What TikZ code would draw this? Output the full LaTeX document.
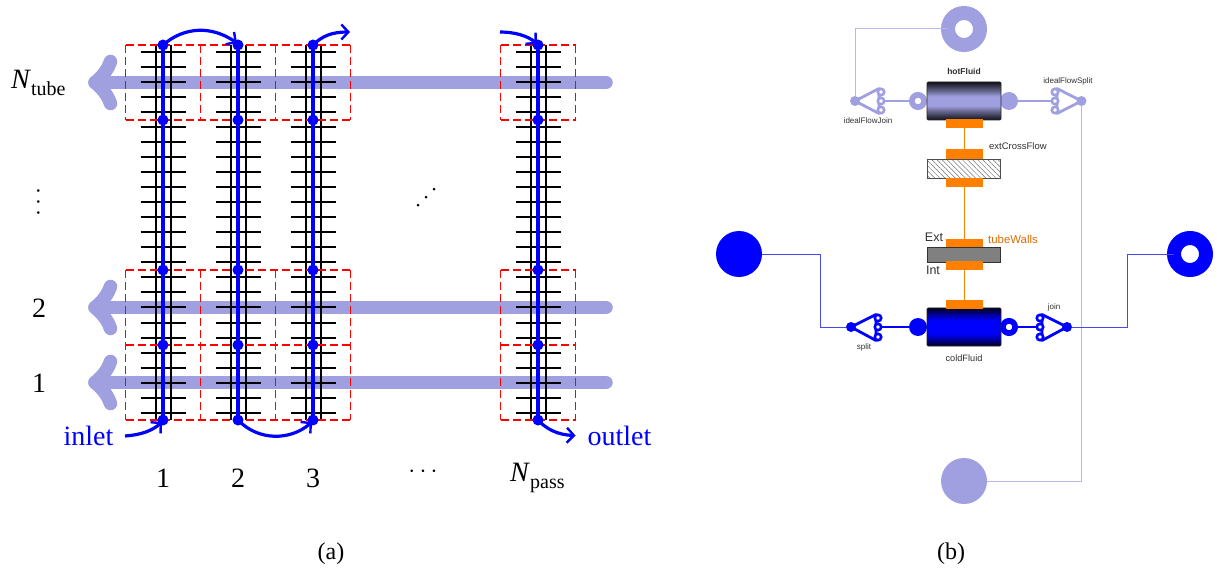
\documentclass[tikz,border=0pt]{standalone}
\usepackage{fontspec}
\setmainfont{Liberation Serif}
\newfontfamily\lsans{Liberation Sans}
\usetikzlibrary{arrows.meta,patterns.meta,calc}
\definecolor{lil}{HTML}{A0A0E0}
\definecolor{lilthin}{HTML}{B8B8EA}
\definecolor{flow}{HTML}{0000FF}
\definecolor{flowthin}{HTML}{4848F0}
\definecolor{orng}{HTML}{FF8000}
\definecolor{lbl}{HTML}{303030}
\definecolor{wallgray}{HTML}{808080}
\pgfdeclareverticalshading{hotshadeb}{100bp}{color(0bp)=(black!90!lil); color(25bp)=(black!90!lil); color(37bp)=(black!35!lil); color(44bp)=(lil); color(56bp)=(lil); color(63bp)=(black!35!lil); color(75bp)=(black!90!lil); color(100bp)=(black!90!lil)}
\pgfdeclareverticalshading{coldshade}{100bp}{color(0bp)=(black!90!flow); color(25bp)=(black!90!flow); color(35bp)=(black!30!flow); color(42bp)=(flow); color(58bp)=(flow); color(65bp)=(black!30!flow); color(75bp)=(black!90!flow); color(100bp)=(black!90!flow)}
\newcommand{\bigtxt}{\fontsize{28}{30}\selectfont}
\newcommand{\subtxt}{\fontsize{20}{22}\selectfont}
\tikzset{
  fin/.style={draw=black,line width=2pt},
  tubewall/.style={draw=black,line width=2pt},
  redline/.style={draw=red,line width=1.2pt,dash pattern=on 8pt off 4pt},
  fdot/.style={circle,fill=flow,inner sep=0pt,minimum size=11pt},
  flowline/.style={draw=flow,line width=3.8pt},
  flowarrow/.style={draw=flow,line width=3.2pt,-{Straight Barb[length=7pt,width=15pt,line width=2.4pt]}},
  crossline/.style={draw=lil,line width=13.5pt,line cap=round},
  crosstip/.style={draw=lil,line width=13.5pt,line cap=round,line join=round},
  ltxt/.style={font=\bigtxt,text=black,inner sep=0pt},
  capt/.style={font=\fontsize{24}{26}\selectfont,text=black,inner sep=0pt},
  fullport/.style={circle,fill=#1,inner sep=0pt,outer sep=0pt},
  ringport/.style={circle,draw=#1,fill=white,inner sep=0pt,outer sep=0pt},
  bigport/.style={minimum size=46pt},
  bigring/.style={minimum size=32pt,line width=14pt},
  midport/.style={minimum size=18pt},
  midring/.style={minimum size=12.3pt,line width=5.7pt},
  smalldot/.style={minimum size=10pt},
  pin/.style={circle,draw=#1,fill=white,inner sep=0pt,outer sep=0pt,line width=2.6pt,minimum size=6.4pt},
  thin lil/.style={draw=lilthin,line width=1pt},
  thin blue/.style={draw=flowthin,line width=.9pt},
  thin lil dark/.style={draw=lil,line width=1.3pt},
  thin blue dark/.style={draw=flow,line width=1.3pt},
  tri/.style={line width=2.8pt,line join=round},
  cyl/.style={rectangle,minimum width=74pt,minimum height=38pt,inner sep=0pt,outer sep=0pt,rounded corners=1pt,draw=black!85,line width=.6pt},
  thermal/.style={rectangle,fill=orng,inner sep=0pt,outer sep=0pt,minimum width=37pt,minimum height=9pt},
  tline/.style={draw=orng,line width=1pt},
  stxt/.style={font=\lsans\fontsize{#1}{#1}\selectfont,text=lbl,inner sep=0pt},
}
\begin{document}
\begin{tikzpicture}[x=1pt,y=-1pt]
\useasboundingbox (0,0) rectangle (1219,572);
% ---------- (a) ----------
\foreach \yy/\nm in {82.5/a,307.5/b,382.5/c}{
  \coordinate (xs\nm) at (606,\yy);
  \coordinate (xt\nm) at (95,\yy);
  \coordinate (xu\nm) at (110.5,\yy-21);
  \coordinate (xd\nm) at (110.5,\yy+21);
  \draw[crossline] (xs\nm) -- (xt\nm);
  \draw[crosstip] (xu\nm) .. controls (107,\yy-11) and (101,\yy-5) .. (xt\nm) .. controls (101,\yy+5) and (107,\yy+11) .. (xd\nm);
}
\foreach \cx in {163,238,313,538}{
  \foreach \k in {0,...,24}{
    \pgfmathsetmacro{\yy}{52.5+15*\k}
    \draw[fin] (\cx-22.5,\yy) -- (\cx+22.5,\yy);
  }
  \draw[tubewall] (\cx-7.5,45) -- (\cx-7.5,420);
  \draw[tubewall] (\cx+7.5,45) -- (\cx+7.5,420);
}
% red control volumes: every edge once
\foreach \ya in {45,120,270,345,420}{
  \draw[redline] (125.5,\ya) -- (350.5,\ya);
  \draw[redline] (500.5,\ya) -- (575.5,\ya);
}
\foreach \xa in {125.5,200.5,275.5,350.5,500.5,575.5}{
  \draw[redline] (\xa,45) -- (\xa,120);
  \draw[redline] (\xa,270) -- (\xa,420);
}
\foreach \cx/\c in {163/p,238/q,313/r,538/s}{
  \node[fdot] (\c1) at (\cx,45) {};
  \node[fdot] (\c2) at (\cx,120) {};
  \node[fdot] (\c3) at (\cx,270) {};
  \node[fdot] (\c4) at (\cx,345) {};
  \node[fdot] (\c5) at (\cx,420) {};
  \draw[flowline] (\c1.center) -- (\c5.center);
}
\coordinate (inA) at (125,436);
\coordinate (outB) at (350,32);
\coordinate (inS) at (500,32);
\coordinate (outE) at (575.5,435.5);
\draw[flowarrow] (p1.center) .. controls (185,26) and (212,26) .. (237,43);
\draw[flowarrow] (r1.center) .. controls (322,36) and (332,32) .. (outB);
\draw[flowarrow] (inS) .. controls (515,32) and (528,36) .. (537,44);
\draw[flowarrow] (inA) .. controls (140,435) and (152,431) .. (162,422);
\draw[flowarrow] (q5.center) .. controls (258,441) and (290,441) .. (312,422);
\draw[flowarrow] (s5.center) .. controls (546,429) and (558,435) .. (outE);
\node[ltxt,anchor=west] (ntube) at (11,83) {\textit{N}\raisebox{-.22em}{\subtxt tube}};
\node[ltxt] (r2) at (39,308) {2};
\node[ltxt] (r1l) at (39,383) {1};
\node[ltxt,rotate=90,font=\fontsize{32}{34}\selectfont] (rv) at (39,202) {$\cdots$};
\node[ltxt,rotate=45,font=\fontsize{32}{34}\selectfont] (rd) at (427,198) {$\cdots$};
\node[ltxt,text=flow] (inl) at (88.5,436) {inlet};
\node[ltxt,text=flow] (outl) at (619.5,436) {outlet};
\node[ltxt] (c1) at (163,478) {1};
\node[ltxt] (c2) at (238,478) {2};
\node[ltxt] (c3) at (313,478) {3};
\node[ltxt,font=\fontsize{32}{34}\selectfont] (cd) at (423,472) {$\cdots$};
\node[ltxt,anchor=west] (npass) at (510,478) {\textit{N}\raisebox{-.22em}{\subtxt pass}};
\node[capt] (capa) at (331,554) {(a)};
\node[capt] (capb) at (951,554) {(b)};
% ---------- (b) ----------
\node[ringport=lil,bigring] (hotOut) at (964,29) {};
\node[fullport=lil,bigport] (hotIn) at (964,481) {};
\node[fullport=flow,bigport] (coldIn) at (739,254) {};
\node[ringport=flow,bigring] (coldOut) at (1190,254) {};
% hot branch
\node[fullport=lil,smalldot] (hjD) at (855,101) {};
\coordinate (hj1) at (881,92);
\coordinate (hj2) at (881,101);
\coordinate (hj3) at (881,110);
\node[fullport=lil,smalldot] (hsD) at (1081.5,101) {};
\coordinate (hs1) at (1055,92);
\coordinate (hs2) at (1055,101);
\coordinate (hs3) at (1055,110);
\node[ringport=lil,midring] (hotA) at (918,101) {};
\node[fullport=lil,midport] (hotB) at (1009,101) {};
\node[cyl,shading=hotshadeb] (hot) at (964,101) {};
\draw[thin lil] (hotOut) -| (hjD);
\draw[thin lil] (hsD) |- (hotIn);
\draw[thin lil dark] (hj2) -- (hotA);
\draw[thin lil dark] (hotB) -- (hs2);
\draw[lil,tri] (hjD.center) -- ($(hj1)+(-2,-3.5)$) -- ($(hj3)+(-2,3.5)$) -- cycle;
\draw[lil,tri] (hsD.center) -- ($(hs1)+(2,-3.5)$) -- ($(hs3)+(2,3.5)$) -- cycle;
\foreach \pp in {hj1,hj2,hj3,hs1,hs2,hs3}{\node[pin=lil] at (\pp) {};}
% thermal stack
\node[thermal] (t1) at (964,124) {};
\node[thermal,minimum height=10pt] (t2) at (964,154) {};
\node[rectangle,draw=black!70,line width=.7pt,minimum width=73pt,minimum height=19pt,inner sep=0pt,outer sep=0pt,
      pattern={Lines[angle=-45,distance=3.6pt,line width=.5pt]},pattern color=black!55] (cross) at (964,169) {};
\node[thermal] (t3) at (964,183) {};
\node[thermal,minimum height=8pt] (t4) at (964,243.5) {};
\node[rectangle,draw=black!80,fill=wallgray,line width=.7pt,minimum width=72.5pt,minimum height=15pt,inner sep=0pt,outer sep=0pt] (wall) at (964,255) {};
\node[thermal] (t5) at (964,266) {};
\draw[tline] (t1) -- (t2);
\draw[tline] (t3) -- (t4);
% cold branch
\node[fullport=flow,smalldot] (csD) at (851,327) {};
\coordinate (cs1) at (878,318);
\coordinate (cs2) at (878,327);
\coordinate (cs3) at (878,337);
\node[fullport=flow,smalldot] (cjD) at (1067,327) {};
\coordinate (cj1) at (1040,318);
\coordinate (cj2) at (1040,327);
\coordinate (cj3) at (1040,337);
\node[fullport=flow,midport] (coldA) at (918,327) {};
\node[ringport=flow,midring] (coldB) at (1009,327) {};
\node[cyl,shading=coldshade] (cold) at (964,327) {};
\node[thermal] (t6) at (964,304.5) {};
\draw[tline] (t5) -- (t6);
\coordinate (cl) at (820,327);
\coordinate (cr) at (1127,327);
\draw[thin blue] (coldIn) -| (cl) -- (csD);
\draw[thin blue] (coldOut) -| (cr) -- (cjD);
\draw[thin blue dark] (cs2) -- (coldA);
\draw[thin blue dark] (coldB) -- (cj2);
\draw[flow,tri] (csD.center) -- ($(cs1)+(-2,-3.5)$) -- ($(cs3)+(-2,3.5)$) -- cycle;
\draw[flow,tri] (cjD.center) -- ($(cj1)+(2,-3.5)$) -- ($(cj3)+(2,3.5)$) -- cycle;
\foreach \pp in {cs1,cs2,cs3,cj1,cj2,cj3}{\node[pin=flow] at (\pp) {};}
% texts
\node[stxt=8.5] (lhot) at (964,71) {\bfseries hotFluid};
\node[stxt=8] (ljoin) at (868,121) {idealFlowJoin};
\node[stxt=8] (lsplit) at (1068,81) {idealFlowSplit};
\node[stxt=9.5,anchor=west] (lcross) at (989,146.5) {extCrossFlow};
\node[stxt=12.5] (lext) at (934,237) {Ext};
\node[stxt=12.5] (lint) at (933,270) {Int};
\node[stxt=11.4,text=orng!85!black,anchor=west] (lwall) at (988,239.5) {tubeWalls};
\node[stxt=8] (lsp) at (864,347) {split};
\node[stxt=8] (ljn) at (1054,307) {join};
\node[stxt=9.2] (lcold) at (964,358) {coldFluid};
\end{tikzpicture}
\end{document}
